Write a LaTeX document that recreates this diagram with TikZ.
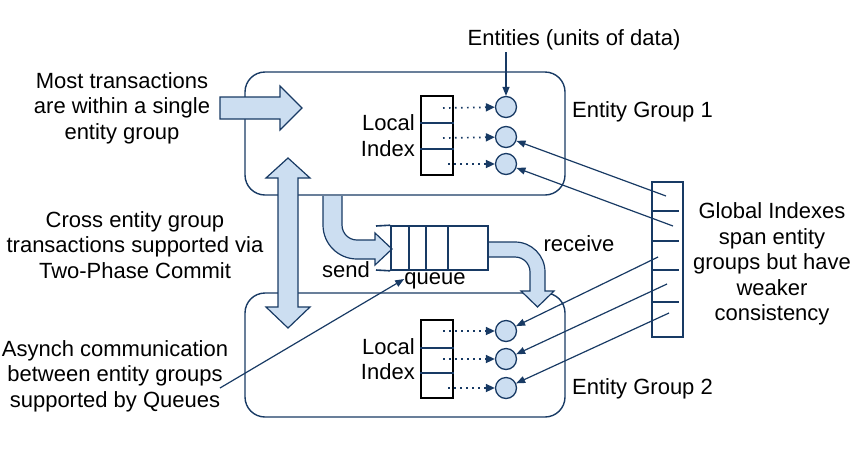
\documentclass[tikz,border=0pt]{standalone}
\usepackage{fontspec}
\setmainfont{Liberation Sans}
\usetikzlibrary{arrows.meta}
\definecolor{lblue}{RGB}{204,222,241}
\definecolor{dblue}{RGB}{24,58,100}
\begin{document}
\begin{tikzpicture}[x=1pt,y=-1pt,
  font=\fontsize{22}{25.5}\selectfont,
  groupbox/.style={draw=dblue,line width=1.4pt,rounded corners=20pt,inner sep=0pt},
  idxbox/.style={draw=black,line width=1.8pt,inner sep=0pt,minimum width=32pt},
  gidxbox/.style={draw=dblue,line width=1.8pt,inner sep=0pt},
  divider/.style={draw=dblue,line width=1.6pt},
  entity/.style={circle,draw=dblue,fill=lblue,line width=1.3pt,minimum size=21pt,inner sep=0pt},
  fatarrow/.style={draw=dblue,fill=lblue,line width=1.2pt,line join=miter},
  dotarrow/.style={draw=dblue,line width=1.7pt,dash pattern=on 1.7pt off 4.3pt,-{Triangle[length=9pt,width=8pt]}},
  linkarrow/.style={draw=dblue,line width=1.2pt,-{Triangle[length=9pt,width=7pt]}},
  txt/.style={inner sep=0pt,align=center,text=black}
]
\useasboundingbox (0,0) rectangle (858,459);

% entity group boxes
\node[groupbox,minimum width=320pt,minimum height=123pt] (eg1) at (405,133.5) {};
\node[groupbox,minimum width=320pt,minimum height=124pt] (eg2) at (405,355) {};

% fat arrows
\draw[fatarrow] (220,97) -- (280,97) -- (280,86) -- (302,108) -- (280,130) -- (280,119) -- (220,119) -- cycle;
\draw[fatarrow] (288,158) -- (310,178) -- (298,178) -- (298,307) -- (310,307) -- (288,328) -- (266,307) -- (278,307) -- (278,178) -- (266,178) -- cycle;
% send arrow
\draw[fatarrow] (323,196) -- (323,225) .. controls (323,243.8) and (338.2,259) .. (357,259) -- (375,259) -- (375,265) -- (392,249) -- (375,233) -- (375,240) -- (357,240) .. controls (348.7,240) and (342,233.3) .. (342,225) -- (342,196);
\fill[lblue] (323.6,196) rectangle (341.4,226);
% receive arrow
\draw[fatarrow] (488,242) -- (515,242) .. controls (531.6,242) and (545,255.4) .. (545,272) -- (545,291) -- (554,291) -- (537.5,307) -- (521,291) -- (530,291) -- (530,272) .. controls (530,263.7) and (523.3,257) .. (515,257) -- (488,257) -- cycle;

% queue
\node[draw=dblue,line width=1.6pt,minimum width=97pt,minimum height=44pt,inner sep=0pt] (q) at (439.5,248) {};
\coordinate (qtl) at (376,226);
\coordinate (qbl) at (376,270);
\draw[divider] (qtl) -- (q.north west);
\draw[divider] (qbl) -- (q.south west);
\draw[dblue,line width=1.2pt] (409,226) -- (409,270) (426,226) -- (426,270) (448,226) -- (448,270);

% local indexes
\node[idxbox,minimum height=79pt] (li1) at (437,135.5) {};
\draw[divider] (li1.west |- 0,123) -- (454,123);
\draw[divider] (li1.west |- 0,149) -- (454,149);
\node[idxbox,minimum height=78pt] (li2) at (437,359) {};
\draw[divider] (li2.west |- 0,348) -- (454,348);
\draw[divider] (li2.west |- 0,373) -- (454,373);

% entities
\node[entity] (c11) at (506,107) {};
\node[entity] (c12) at (506,137) {};
\node[entity] (c13) at (506,164) {};
\node[entity] (c21) at (506,331) {};
\node[entity] (c22) at (506,359) {};
\node[entity] (c23) at (506,388) {};

\coordinate (d11) at (443,108);
\coordinate (d12) at (443,138);
\coordinate (d13) at (448,164);
\coordinate (d21) at (443,331);
\coordinate (d22) at (443,359);
\coordinate (d23) at (448,388);
\draw[dotarrow] (d11) -- (c11);
\draw[dotarrow] (d12) -- (c12);
\draw[dotarrow] (d13) -- (c13);
\draw[dotarrow] (d21) -- (c21);
\draw[dotarrow] (d22) -- (c22);
\draw[dotarrow] (d23) -- (c23);

% global index
\node[gidxbox,minimum width=31pt,minimum height=155pt] (gi) at (667.5,259.5) {};
\draw[divider] (gi.west |- 0,211) -- (679,211);
\draw[divider] (gi.west |- 0,241) -- (679,241);
\draw[divider] (gi.west |- 0,270) -- (679,270);
\draw[divider] (gi.west |- 0,302) -- (679,302);
\coordinate (g1) at (666,196);
\coordinate (g2) at (673,226);
\coordinate (g3) at (658,257);
\coordinate (g4) at (667,284);
\coordinate (g5) at (669,313);
\draw[linkarrow] (g1) -- (c12);
\draw[linkarrow] (g2) -- (c13);
\draw[linkarrow] (g3) -- (c21);
\draw[linkarrow] (g4) -- (c22);
\draw[linkarrow] (g5) -- (c23);

% texts
\node[txt] (ent) at (574,40) {Entities (units of data)};
\draw[linkarrow] (ent.south -| c11) ++(0,2) -- (c11.north);
\node[txt,anchor=west] (eg1t) at (572,112) {Entity Group 1};
\node[txt,anchor=west] (eg2t) at (572,389) {Entity Group 2};
\node[txt,align=right,anchor=east] (li1t) at (415,135.5) {Local\\Index};
\node[txt,align=right,anchor=east] (li2t) at (415,359) {Local\\Index};
\node[txt] (glt) at (772,264) {Global Indexes\\span entity\\groups but have\\weaker\\consistency};
\node[txt] (t1) at (122,108) {Most transactions\\are within a single\\entity group};
\node[txt] (t2) at (135,245) {Cross entity group\\transactions supported via\\Two-Phase Commit};
\node[txt] (t3) at (115,376) {Asynch communication\\between entity groups\\supported by Queues};
\node[txt,anchor=base] (send) at (346,277) {send};
\node[txt,anchor=base] (queue) at (435,284) {queue};
\node[txt,anchor=base] (recv) at (579,251) {receive};
\coordinate (a3) at (220,388);
\draw[linkarrow] (a3) -- (queue.west |- 0,279);
\end{tikzpicture}
\end{document}
